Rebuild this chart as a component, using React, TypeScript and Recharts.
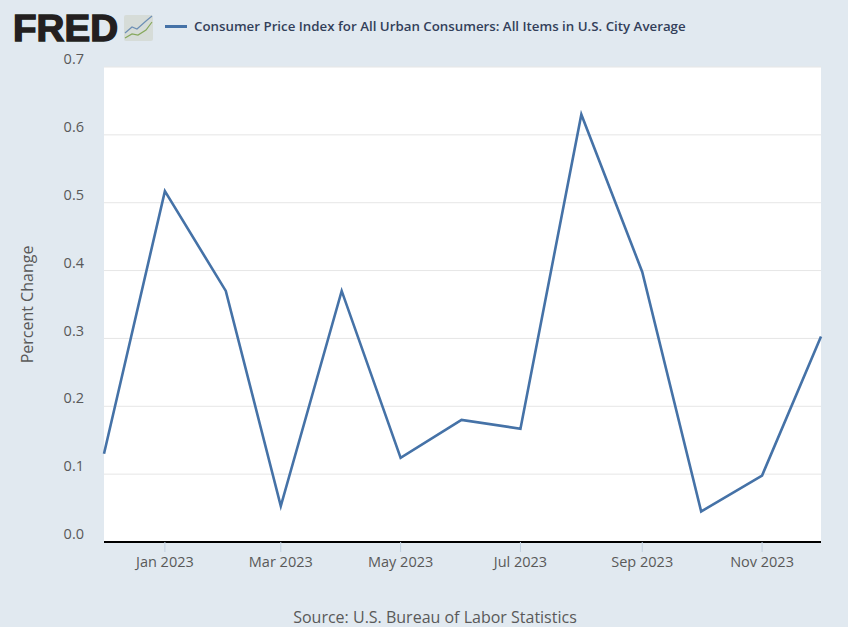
import { LineChart, Line, XAxis, YAxis, CartesianGrid, Legend } from 'recharts';

const months = [
  '2022-12-01', '2023-01-01', '2023-02-01', '2023-03-01', '2023-04-01', '2023-05-01', '2023-06-01',
  '2023-07-01', '2023-08-01', '2023-09-01', '2023-10-01', '2023-11-01', '2023-12-01',
];
const values = [0.13, 0.517, 0.37, 0.053, 0.37, 0.124, 0.18, 0.167, 0.63, 0.398, 0.045, 0.098, 0.303];
const yTicks = [0, 0.1, 0.2, 0.3, 0.4, 0.5, 0.6, 0.7];
const xTickDates = ['2023-01-01', '2023-03-01', '2023-05-01', '2023-07-01', '2023-09-01', '2023-11-01'];
const monthNames = ['Jan', 'Feb', 'Mar', 'Apr', 'May', 'Jun', 'Jul', 'Aug', 'Sep', 'Oct', 'Nov', 'Dec'];
const seriesName = 'Consumer Price Index for All Urban Consumers: All Items in U.S. City Average';

const chartData = months.map((m, i) => ({ time: Date.parse(m), value: values[i] }));
const xTicks = xTickDates.map((d) => Date.parse(d));

const FONT = '"Open Sans", sans-serif';
const TEXT = '#595959';

function formatMonth(t: number) {
  const d = new Date(t);
  return `${monthNames[d.getUTCMonth()]} ${d.getUTCFullYear()}`;
}

function LegendRow() {
  return (
    <div style={{ display: 'flex', alignItems: 'center', fontFamily: FONT, fontSize: 13.3, fontWeight: 600, color: '#333f5a', whiteSpace: 'nowrap' }}>
      <div style={{ width: 22, height: 3, background: '#4572a7', marginRight: 7 }} />
      {seriesName}
    </div>
  );
}

function Logo() {
  return (
    <svg width={170} height={60} style={{ position: 'absolute', left: 0, top: 0 }}>
      <text x={13} y={41} fontFamily="Liberation Sans" fontWeight={700} fontSize={37} fill="#231f20" stroke="#231f20" strokeWidth={1.4} textLength={105} lengthAdjust="spacingAndGlyphs">FRED</text>
      <rect x={124} y={15} width={29} height={26} rx={2} fill="#d6dcd8" />
      <polyline points="125,33 132,27 137,29 146,21 152,16" fill="none" stroke="#6d8fb5" strokeWidth={1.2} />
      <polyline points="125,38 132,34 138,35 146,30 152,22" fill="none" stroke="#86a85c" strokeWidth={1.2} />
    </svg>
  );
}

export default function App() {
  return (
    <div style={{ position: 'relative', width: 848, height: 627, background: '#e1e9f0', overflow: 'hidden' }}>
      <style>{'body{margin:0}'}</style>
      <Logo />
      <LineChart width={848} height={627} data={chartData} margin={{ top: 49, right: 27, bottom: 0, left: 0 }}>
        <CartesianGrid vertical={false} stroke="#e6e6e6" fill="#ffffff" />
        <XAxis
          dataKey="time"
          type="number"
          scale="time"
          domain={[Date.parse(months[0]), Date.parse(months[12])]}
          ticks={xTicks}
          tickFormatter={formatMonth}
          height={85}
          interval={0}
          stroke="#000000"
          strokeWidth={2}
          tickLine={{ stroke: '#c0d0e0', strokeWidth: 1 }}
          tickSize={10}
          tickMargin={5}
          tick={{ fill: TEXT, fontSize: 14.5, fontFamily: FONT }}
        />
        <YAxis
          type="number"
          domain={[0, 0.7]}
          ticks={yTicks}
          width={104}
          axisLine={false}
          tickLine={false}
          tickSize={0}
          tickMargin={20}
          tickFormatter={(v: number) => v.toFixed(1)}
          tick={{ fill: TEXT, fontSize: 14.5, fontFamily: FONT, dy: -8 }}
          label={{ value: 'Percent Change', angle: -90, position: 'insideLeft', offset: 0, dx: 27, fill: TEXT, fontSize: 16, fontFamily: FONT, style: { textAnchor: 'middle' } }}
        />
        <Legend
          content={<LegendRow />}
          layout="horizontal"
          verticalAlign="top"
          align="left"
          wrapperStyle={{ position: 'absolute', left: 165, top: 17, width: 620 }}
        />
        <Line dataKey="value" name={seriesName} stroke="#4572a7" strokeWidth={2.6} dot={false} type="linear" isAnimationActive={false} />
      </LineChart>
      <div style={{ position: 'absolute', left: 0, width: 870, top: 606, textAlign: 'center', fontFamily: FONT, fontSize: 16, color: TEXT }}>
        Source: U.S. Bureau of Labor Statistics
      </div>
    </div>
  );
}
